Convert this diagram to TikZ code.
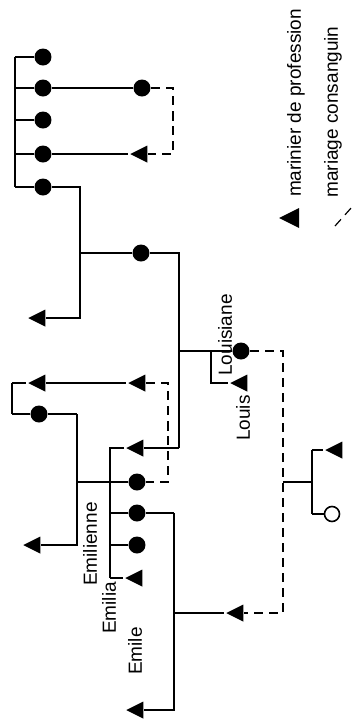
\documentclass[tikz,border=0pt]{standalone}
\usepackage{fontspec}
\setmainfont{Liberation Sans}
\usetikzlibrary{shapes.geometric}
\tikzset{
  female/.style={circle,fill=black,inner sep=0pt,minimum size=8.5pt},
  male/.style={isosceles triangle,isosceles triangle stretches,shape border rotate=180,
    fill=black,inner sep=0pt,minimum width=8.5pt,minimum height=8.5pt},
  nosex/.style={circle,draw=black,fill=white,inner sep=0pt,minimum size=7.5pt},
  kin/.style={dash pattern=on 4.5pt off 3pt},
  given/.style={rotate=90,inner sep=0pt,font=\fontsize{9.5}{11}\selectfont}
}

\begin{document}
\begin{tikzpicture}[x=0.5pt,y=-0.5pt,line width=0.8pt]
  \useasboundingbox (0,0) rectangle (352,720);
  % top sibship
  \foreach \i/\y in {1/57,2/88,3/120,4/154,5/187} {
    \coordinate (t\i) at (15,\y);
    \node[female] (s\i) at (43,\y) {};
    \draw (t\i) -- (s\i);
  }
  \draw (t1) -- (t5);
  \node[female] (f1) at (142,88) {};
  \node[male] (m1) at (142,154) {};
  \draw (s2) -- (f1);
  \draw (s4) -- (m1);
  \coordinate (k1) at (173,120);
  \draw[kin] (f1) -| (k1) |- (m1);

  % main line
  \coordinate (j1) at (80,253);
  \coordinate (j2) at (179,253);
  \coordinate (j3) at (179,448);
  \coordinate (j4) at (179,351);
  \coordinate (j5) at (211,351);
  \node[male] (m2) at (40,318) {};
  \node[female] (f2) at (141,253) {};
  \draw (s5) -| (j1) |- (m2);
  \draw (j1) -- (f2) -- (j2) -- (j3);

  % Louisiane / Louis
  \node[female] (louisiane) at (241,351) {};
  \node[male] (louis) at (242,383) {};
  \draw (j4) -- (j5) -- (louisiane);
  \draw (j5) |- (louis);
  \node[given] (lbllouisiane) at (225,335) {Louisiane};
  \node[given] (lbllouis) at (243,418) {Louis};

  % left sibship
  \coordinate (l1) at (12,383);
  \coordinate (l2) at (12,414);
  \coordinate (j6) at (77,414);
  \coordinate (j7) at (77,482);
  \node[male] (m3) at (40,383) {};
  \node[male] (m4) at (140,383) {};
  \node[female] (f3) at (39,414) {};
  \node[female] (f4) at (137,482) {};
  \node[male] (m5) at (35,545) {};
  \draw (l1) -- (l2);
  \draw (l1) -- (m3) -- (m4);
  \draw (l2) -- (f3) -- (j6);
  \draw (j6) |- (m5);
  \draw (j7) -- (f4);
  \coordinate (k2) at (168,430);
  \draw[kin] (m4) -| (k2) |- (f4);

  % Emilienne, Emilia, Emile
  \coordinate (j8) at (110,448);
  \coordinate (j9) at (110,578);
  \coordinate (j10) at (110,513);
  \coordinate (j11) at (110,545);
  \coordinate (j12) at (174,513);
  \coordinate (j13) at (174,613);
  \node[male] (m6) at (138,448) {};
  \node[female] (emilienne) at (137,513) {};
  \node[female] (emilia) at (137,545) {};
  \node[male] (emile) at (137,578) {};
  \node[male] (m7) at (238,613) {};
  \node[male] (m8) at (138,710) {};
  \draw (j3) -- (m6) -- (j8) -- (j9);
  \draw (j10) -- (emilienne) -- (j12);
  \draw (j11) -- (emilia);
  \draw (j9) -- (emile);
  \draw (j12) |- (m8);
  \draw (j13) -- (m7);
  \node[given] (lblemilienne) at (90,544) {Emilienne};
  \node[given] (lblemilia) at (109,608) {Emilia};
  \node[given] (lblemile) at (135,651) {Emile};

  % consanguineous marriage and offspring
  \coordinate (k3) at (283,482);
  \coordinate (j14) at (312,482);
  \coordinate (j15) at (312,450);
  \coordinate (j16) at (312,514);
  \node[male] (m9) at (337,450) {};
  \node[nosex] (child) at (332,514) {};
  \draw[kin] (louisiane) -| (k3) |- (m7);
  \draw (k3) -- (j14);
  \draw (j15) -- (j16);
  \draw (j15) -- (m9);
  \draw (j16) -- (child);

  % legend
  \node[male,minimum width=10pt,minimum height=10pt] (legmale) at (293,218) {};
  \node[given] (legmaletext) at (296,103) {marinier de profession};
  \node[given] (legkintext) at (333,112) {mariage consanguin};
  \coordinate (lk1) at (335,226);
  \coordinate (lk2) at (352,207);
  \draw[kin,line width=0.6pt] (lk1) -- (lk2);
\end{tikzpicture}
\end{document}
